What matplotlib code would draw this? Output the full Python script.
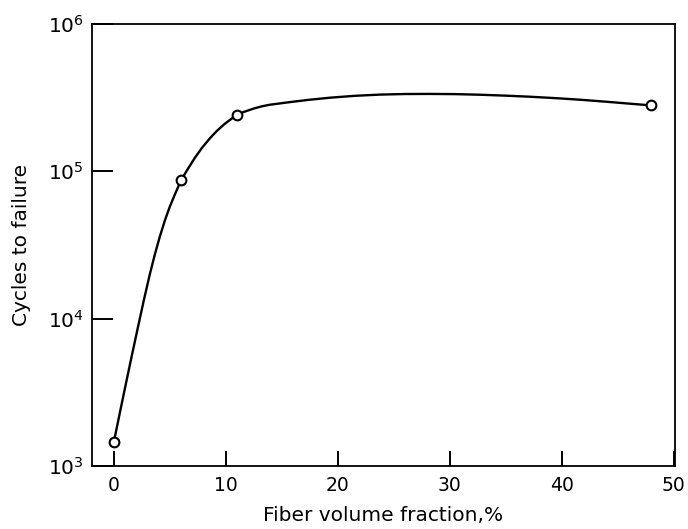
import matplotlib
matplotlib.use("Agg")
import matplotlib.pyplot as plt
from matplotlib.ticker import FixedLocator, NullLocator

# Measured specimens: fiber volume fraction (%) and cycles to failure
fiber_pct = [0, 6, 11, 48]
cycles = [1.455e3, 8.7e4, 2.43e5, 2.8e5]

# Hand-faired trend curve through the measurements
curve_pct = [0.0, 0.536, 1.071, 1.607, 2.143, 2.679, 3.214, 3.661, 4.107,
             4.554, 5.0, 5.446, 6.0, 6.607, 7.232, 7.857, 8.571, 9.196,
             9.911, 10.536, 11.0, 11.786, 12.5, 13.214, 13.929, 15.714,
             17.5, 19.286, 21.518, 23.75, 25.982, 28.214, 30.446, 32.679,
             34.911, 37.143, 39.375, 41.607, 43.839, 45.893, 48.0]
curve_cycles = [1.455e3, 2.297e3, 3.603e3, 5.617e3, 8.688e3, 1.3355e4,
                2.005e4, 2.728e4, 3.609e4, 4.635e4, 5.768e4, 6.958e4,
                8.7e4, 1.038e5, 1.235e5, 1.44e5, 1.675e5, 1.881e5,
                2.104e5, 2.283e5, 2.43e5, 2.559e5, 2.669e5, 2.762e5,
                2.832e5, 2.95e5, 3.063e5, 3.16e5, 3.255e5, 3.317e5,
                3.348e5, 3.353e5, 3.342e5, 3.311e5, 3.265e5, 3.209e5,
                3.141e5, 3.063e5, 2.973e5, 2.886e5, 2.8e5]

x_ticks = [0, 10, 20, 30, 40, 50]
y_ticks = [1e3, 1e4, 1e5, 1e6]

plt.rcParams["font.family"] = ["DejaVu Sans"]

fig = plt.figure(figsize=(6.88, 5.29), dpi=100)
ax = fig.add_axes([92 / 688, 63 / 529, 583 / 688, 442 / 529])

ax.plot(curve_pct, curve_cycles, color="black", lw=1.7,
        solid_capstyle="round", solid_joinstyle="round", zorder=2)
ax.plot(fiber_pct, cycles, linestyle="none", marker="o", ms=7,
        mfc="white", mec="black", mew=1.5, zorder=3)

ax.set_yscale("log")
ax.set_xlim(-1.95, 50.1)
ax.set_ylim(1e3, 1e6)

ax.xaxis.set_major_locator(FixedLocator(x_ticks))
ax.yaxis.set_major_locator(FixedLocator(y_ticks))
ax.yaxis.set_minor_locator(NullLocator())
ax.set_xticklabels([str(v) for v in x_ticks])
ax.set_yticklabels([r"$10^{3}$", r"$10^{4}$", r"$10^{5}$", r"$10^{6}$"])

ax.tick_params(axis="x", direction="in", length=11, width=1.4, pad=7,
               labelsize=13.5)
ax.tick_params(axis="y", direction="in", length=15, width=1.4, pad=6,
               labelsize=14.5)

for side in ("left", "bottom", "top", "right"):
    ax.spines[side].set_linewidth(1.3)

ax.set_xlabel("Fiber volume fraction,%", fontsize=14.5, labelpad=8)
ax.set_ylabel("Cycles to failure", fontsize=14.5, labelpad=12)

fig.savefig("out.png", dpi=100)
